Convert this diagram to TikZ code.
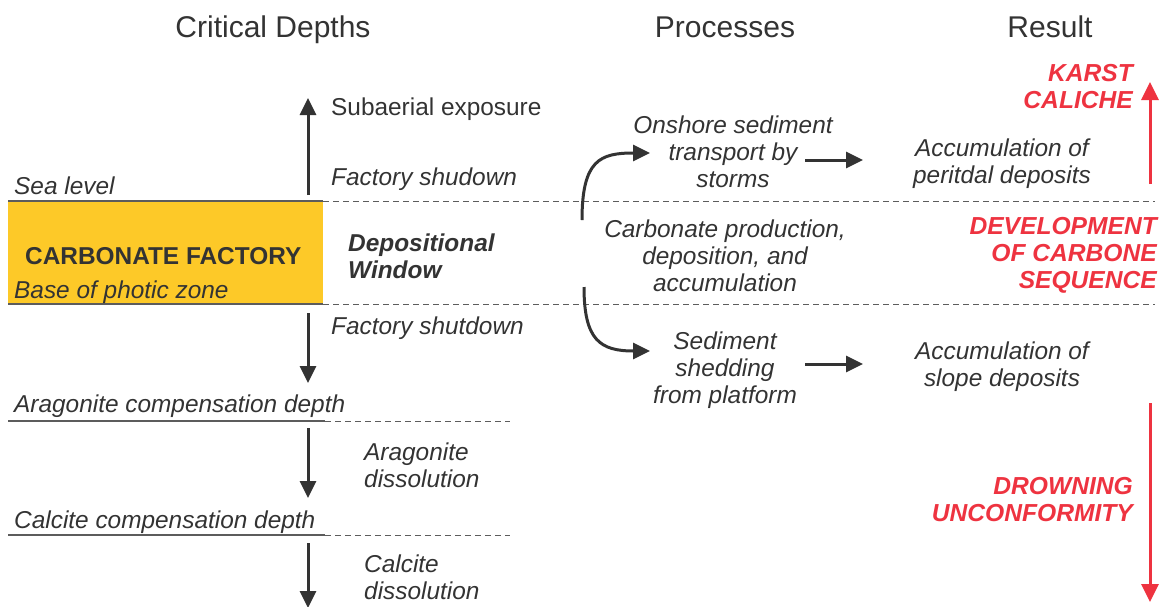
\documentclass[tikz,border=0pt]{standalone}
\usepackage{fontspec}
\setmainfont{Liberation Sans}
\usetikzlibrary{arrows.meta, positioning, calc}

\definecolor{txtgray}{HTML}{333333}
\definecolor{factoryyellow}{HTML}{FDC928}
\definecolor{resultred}{HTML}{EE3340}

\tikzset{
    title/.style={inner sep=0pt, anchor=base, text=txtgray, font=\fontsize{30}{34}\selectfont},
    lbl/.style={inner sep=0pt, text=txtgray, align=center, font=\fontsize{24.4}{27}\selectfont\itshape},
    boldlbl/.style={lbl, font=\fontsize{24.4}{27}\selectfont\bfseries\itshape},
    redlbl/.style={inner sep=0pt, text=resultred, align=right, font=\fontsize{24.6}{27}\selectfont\bfseries\itshape},
    arr/.style={draw=txtgray, line width=3pt, -{Triangle[length=17pt, width=16pt]}},
    redarr/.style={draw=resultred, line width=3pt, -{Triangle[length=18pt, width=17pt]}},
    levelline/.style={draw=txtgray!80, line width=1.4pt},
    dashline/.style={draw=txtgray!80, line width=1pt, dash pattern=on 6pt off 4pt}
}

\begin{document}
\begin{tikzpicture}[x=1pt, y=-1pt]
    \useasboundingbox (0,0) rectangle (1161,606);

    % column titles
    \node[title] (tdepth) at (273,37) {Critical Depths};
    \node[title] (tproc) at (725,37) {Processes};
    \node[title] (tres) at (1050,37) {Result};

    % carbonate factory and depth levels
    \fill[factoryyellow] (8,201) rectangle (323,304);
    \draw[levelline] (8,201) -- (323,201);
    \draw[levelline] (8,304) -- (323,304);
    \draw[dashline] (323,201) -- (1155,201);
    \draw[dashline] (323,304) -- (1155,304);
    \draw[levelline] (8,421) -- (325,421);
    \draw[dashline] (325,421) -- (510,421);
    \draw[levelline] (8,535) -- (325,535);
    \draw[dashline] (325,535) -- (510,535);

    \node[lbl, anchor=west] (sea) at (14,186) {Sea level};
    \node[boldlbl, font=\fontsize{24.4}{27}\selectfont\bfseries, anchor=west] (factory) at (25,256) {CARBONATE FACTORY};
    \node[lbl, anchor=west] (photic) at (14,292) {Base of photic zone};
    \node[boldlbl, align=left, anchor=west] (window) at (348,256) {Depositional\\Window};
    \node[lbl, anchor=west] (acd) at (14,406) {Aragonite compensation depth};
    \node[lbl, anchor=west] (ccd) at (14,522) {Calcite compensation depth};

    % vertical process arrows
    \coordinate (upbot) at (308,195);
    \coordinate (uptop) at (308,98);
    \coordinate (sh1) at (308,313);
    \coordinate (sh2) at (308,383);
    \coordinate (ar1) at (308,428);
    \coordinate (ar2) at (308,498);
    \coordinate (ca1) at (308,543);
    \coordinate (ca2) at (308,608);
    \draw[arr] (upbot) -- (uptop);
    \draw[arr] (sh1) -- (sh2);
    \draw[arr] (ar1) -- (ar2);
    \draw[arr] (ca1) -- (ca2);

    \node[lbl, font=\fontsize{24.4}{27}\selectfont, anchor=west] (exposure) at (331,109) {Subaerial exposure};
    \node[lbl, anchor=west] (shudown) at (331,179) {Factory shudown};
    \node[lbl, anchor=west] (shutdown) at (331,328) {Factory shutdown};
    \node[lbl, align=left, anchor=west] (aragdiss) at (364,465) {Aragonite\\dissolution};
    \node[lbl, align=left, anchor=west] (calcdiss) at (364,577) {Calcite\\dissolution};

    % processes
    \node[lbl] (onshore) at (733,152) {Onshore sediment\\transport by\\storms};
    \node[lbl] (production) at (725,256) {Carbonate production,\\deposition, and\\accumulation};
    \node[lbl] (shedding) at (725,370) {Sediment\\shedding\\from platform};
    \node[lbl] (peritidal) at (1002,164) {Accumulation of\\peritdal deposits};
    \node[lbl] (slope) at (1002,367) {Accumulation of\\slope deposits};

    \coordinate (upstart) at (582,220);
    \coordinate (upend) at (650,153);
    \coordinate (downstart) at (584,287);
    \coordinate (downend) at (650,351);
    \draw[arr] (upstart) .. controls (582,160) and (600,153) .. (upend);
    \draw[arr] (downstart) .. controls (584,340) and (600,351) .. (downend);

    \coordinate (p1) at (805,160);
    \coordinate (p2) at (863,160);
    \coordinate (s1) at (805,364);
    \coordinate (s2) at (863,364);
    \draw[arr] (p1) -- (p2);
    \draw[arr] (s1) -- (s2);

    % results
    \node[redlbl, anchor=east] (karst) at (1133,87) {KARST\\CALICHE};
    \node[redlbl, anchor=east] (sequence) at (1157,255) {DEVELOPMENT\\OF CARBONE\\SEQUENCE};
    \node[redlbl, anchor=east] (drowning) at (1133,500) {DROWNING\\UNCONFORMITY};

    \coordinate (k1) at (1150,184);
    \coordinate (k2) at (1150,82);
    \coordinate (d1) at (1150,403);
    \coordinate (d2) at (1150,602);
    \draw[redarr] (k1) -- (k2);
    \draw[redarr] (d1) -- (d2);
\end{tikzpicture}
\end{document}
